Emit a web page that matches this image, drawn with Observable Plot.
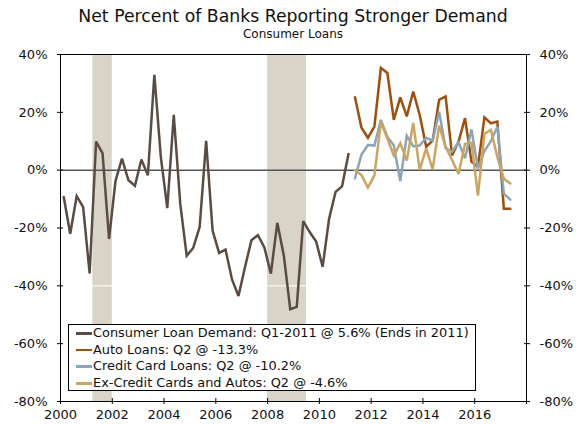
<!DOCTYPE html>
<html>
<head>
<meta charset="utf-8">
<script src="https://cdn.jsdelivr.net/npm/d3@7"></script>
<script src="https://cdn.jsdelivr.net/npm/@observablehq/plot@0.6"></script>
<style>
  body { margin: 0; background: #fff; }
  #wrap { position: relative; width: 586px; height: 424px; font-family: "DejaVu Sans", Verdana, sans-serif; color: #111; }
  #title { position: absolute; left: 0; top: 6px; width: 586px; text-align: center; font-size: 17.3px; line-height: 20px; }
  #subtitle { position: absolute; left: 0; top: 27px; width: 586px; text-align: center; font-size: 12px; line-height: 14px; }
  #chart { position: absolute; left: 0; top: 0; }
  #legend { position: absolute; left: 68px; top: 324px; width: 408px; height: 67px; border: 1px solid #000; background: #fff; box-sizing: border-box; padding-top: 0px; }
  #legend .row { font-size: 12.9px; line-height: 16.7px; height: 16.7px; white-space: nowrap; display: flex; align-items: center; }
  #legend .sw { display: inline-block; width: 16px; height: 2.5px; margin-left: 7px; margin-right: 1px; }
</style>
</head>
<body>
<div id="wrap">
  <div id="chart"></div>
  <div id="title">Net Percent of Banks Reporting Stronger Demand</div>
  <div id="subtitle">Consumer Loans</div>
  <div id="legend"></div>
</div>
<script>
// Consumer Loan Demand, quarterly 2000Q1 - 2011Q1
const consumer = [
  -9.3, -22.0, -9.0, -12.8,
  -35.7, 9.9, 5.8, -23.8,
  -3.7, 4.0, -3.5, -5.4,
  3.7, -1.8, 33.0, 4.6,
  -13.1, 19.1, -11.6, -29.6,
  -26.9, -19.7, 10.1, -20.9,
  -28.6, -27.5, -37.8, -43.5,
  -33.6, -24.2, -22.5, -26.7,
  -35.8, -18.2, -29.5, -48.1,
  -47.3, -17.6, -21.4, -24.7,
  -33.4, -16.8, -7.5, -5.6,
  5.6
];
// Quarterly 2011Q2 - 2017Q2
const autoLoans = [
  25.2, 14.7, 11.2, 15.1,
  35.4, 33.6, 17.4, 25.2,
  18.6, 27.2, 19.1, 8.1,
  10.2, 24.3, 25.5, 5.1,
  9.9, 18.0, 2.9, 1.2,
  18.3, 16.2, 16.8, -13.3,
  -13.3
];
const creditCard = [
  -2.8, 5.4, 8.7, 8.5,
  17.4, 11.6, 8.5, -3.8,
  11.9, 8.3, 8.5, 11.2,
  10.2, 20.2, 7.6, 6.4,
  9.6, 4.1, 14.1, 0.6,
  6.6, 10.0, 15.1, -8.1,
  -10.2
];
const exCredit = [
  0.0, -1.7, -6.0, -1.8,
  16.5, 11.0, 5.0, 9.3,
  3.3, 16.3, 0.1, 7.5,
  0.3, 15.4, 8.1, 3.5,
  -1.3, 9.1, 9.5, -8.8,
  12.6, 13.9, 4.5, -3.0,
  -4.6
];
const recessions = [
  { start: 2001.25, end: 2002.0 },
  { start: 2008.0, end: 2009.5 }
];
const yTicks = [-80, -60, -40, -20, 0, 20, 40];
const xTicks = [2000, 2002, 2004, 2006, 2008, 2010, 2012, 2014, 2016, 2018];
const xTickLabels = ["2000", "2002", "2004", "2006", "2008", "2010", "2012", "2014", "2016", ""];
const seriesNames = [
  "Consumer Loan Demand: Q1-2011 @ 5.6% (Ends in 2011)",
  "Auto Loans: Q2 @ -13.3%",
  "Credit Card Loans: Q2 @ -10.2%",
  "Ex-Credit Cards and Autos: Q2 @ -4.6%"
];
const seriesColors = ["#5a4c42", "#9e4f0c", "#8ba5b9", "#c9a55f"];
const shadeColor = "#d8d4c8";

// quarter midpoint positions on a decimal-year axis
function rows(values, startYear, startQuarter) {
  return values.map((v, i) => ({ t: startYear + (startQuarter - 1 + i) / 4 + 0.125, v }));
}
const consumerRows = rows(consumer, 2000, 1);
const autoRows = rows(autoLoans, 2011, 2);
const creditRows = rows(creditCard, 2011, 2);
const exRows = rows(exCredit, 2011, 2);

const lineOpts = (c) => ({ x: "t", y: "v", stroke: c, strokeWidth: 2.5, strokeLinejoin: "miter", strokeMiterlimit: 3 });

const chart = Plot.plot({
  width: 586,
  height: 424,
  marginTop: 54,
  marginBottom: 23,
  marginLeft: 60,
  marginRight: 60,
  style: { fontFamily: "DejaVu Sans, Verdana, sans-serif", fontSize: "13px", color: "#111", background: "transparent" },
  x: { type: "linear", domain: [2000, 2018] },
  y: { domain: [-80, 40] },
  marks: [
    Plot.rect(recessions, { x1: "start", x2: "end", fill: shadeColor }),
    Plot.ruleY([-40], { stroke: "#fff", strokeWidth: 1 }),
    Plot.ruleY([0], { stroke: "#555", strokeWidth: 1.5 }),
    Plot.line(consumerRows, lineOpts(seriesColors[0])),
    Plot.line(autoRows, lineOpts(seriesColors[1])),
    Plot.line(creditRows, lineOpts(seriesColors[2])),
    Plot.line(exRows, lineOpts(seriesColors[3])),
    Plot.frame({ stroke: "#000", strokeWidth: 1 }),
    Plot.axisY({ anchor: "left", ticks: yTicks, tickFormat: d => d + "%", tickSize: 6, dx: 3, tickPadding: 10, label: null, stroke: "#000", fill: "#111" }),
    Plot.axisY({ anchor: "right", ticks: yTicks, tickFormat: d => d + "%", tickSize: 6, dx: -3, tickPadding: 10, label: null, stroke: "#000", fill: "#111" }),
    Plot.axisX({ anchor: "bottom", ticks: xTicks, tickFormat: (d, i) => xTickLabels[xTicks.indexOf(d)], tickSize: 6, dy: -3, tickPadding: 5, label: null, stroke: "#000", fill: "#111" })
  ]
});
document.getElementById("chart").appendChild(chart);

const legend = document.getElementById("legend");
seriesNames.forEach((name, i) => {
  const row = document.createElement("div");
  row.className = "row";
  const sw = document.createElement("span");
  sw.className = "sw";
  sw.style.background = seriesColors[i];
  row.appendChild(sw);
  row.appendChild(document.createTextNode(name));
  legend.appendChild(row);
});
</script>
</body>
</html>
